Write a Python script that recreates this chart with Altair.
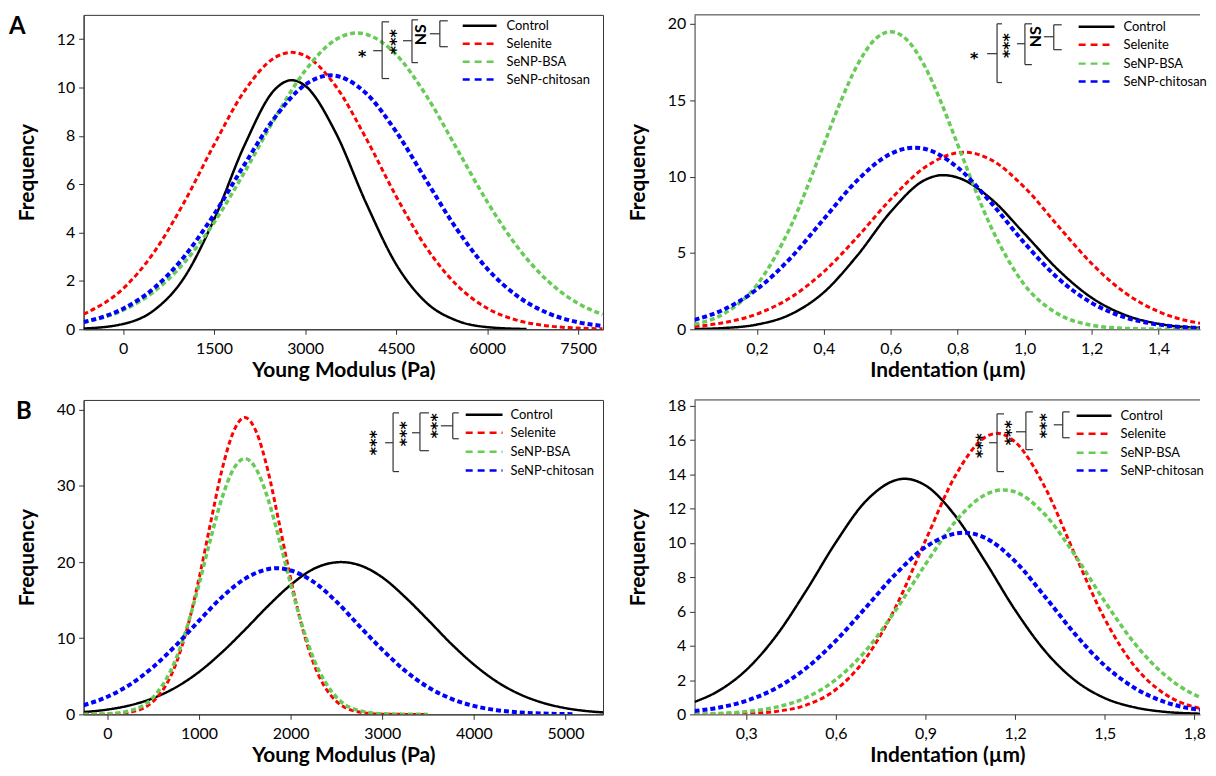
import altair as alt
import pandas as pd

SERIES = ["Control", "Selenite", "SeNP-BSA", "SeNP-chitosan"]
COLORS = ["#000000", "#ff0000", "#66cc55", "#0000ff"]

# ---------------- Panel A, left: Young modulus ----------------
A1_CONTROL_X = [-650, 0, 500, 1000, 1500, 2000, 2500, 2780, 3000, 3500, 4000, 4500, 5000, 5500, 6000, 6650]
A1_CONTROL_Y = [0.03, 0.22, 0.77, 2.11, 4.54, 7.6, 9.91, 10.3, 10.07, 8.15, 5.25, 2.69, 1.1, 0.36, 0.09, 0.01]
A1_SELENITE_X = [-650, 0, 500, 1000, 1500, 2000, 2500, 2780, 3000, 3500, 4000, 4500, 5000, 5500, 6000, 6500, 7000, 7500, 7900]
A1_SELENITE_Y = [0.62, 1.68, 3.15, 5.22, 7.63, 9.85, 11.23, 11.45, 11.31, 10.07, 7.92, 5.5, 3.37, 1.83, 0.87, 0.37, 0.14, 0.05, 0.02]
A1_BSA_X = [-650, 0, 500, 1000, 1500, 2000, 2500, 3000, 3500, 3860, 4000, 4500, 5000, 5500, 6000, 6500, 7000, 7500, 7900]
A1_BSA_Y = [0.29, 0.79, 1.54, 2.73, 4.41, 6.49, 8.72, 10.69, 11.97, 12.25, 12.2, 11.36, 9.65, 7.47, 5.28, 3.4, 2.0, 1.07, 0.61]
A1_CHITOSAN_X = [-650, 0, 500, 1000, 1500, 2000, 2500, 3000, 3420, 4000, 4500, 5000, 5500, 6000, 6500, 7000, 7500, 7900]
A1_CHITOSAN_Y = [0.3, 0.85, 1.68, 2.98, 4.75, 6.81, 8.75, 10.11, 10.5, 9.77, 8.17, 6.14, 4.14, 2.51, 1.37, 0.67, 0.29, 0.14]
A1_XTICKS = [0, 1500, 3000, 4500, 6000, 7500]
A1_YTICKS = [0, 2, 4, 6, 8, 10, 12]

# ---------------- Panel A, right: Indentation ----------------
A2_CONTROL_X = [0.014, 0.1, 0.2, 0.3, 0.4, 0.5, 0.6, 0.7, 0.755, 0.8, 0.9, 1.0, 1.1, 1.2, 1.3, 1.4, 1.5, 1.524]
A2_CONTROL_Y = [0.02, 0.08, 0.31, 0.97, 2.42, 4.83, 7.7, 9.76, 10.1, 9.94, 8.54, 6.25, 3.9, 2.07, 0.94, 0.36, 0.12, 0.1]
A2_SELENITE_X = [0.014, 0.1, 0.2, 0.3, 0.4, 0.5, 0.6, 0.7, 0.82, 0.9, 1.0, 1.1, 1.2, 1.3, 1.4, 1.5, 1.524]
A2_SELENITE_Y = [0.18, 0.43, 1.0, 2.07, 3.77, 6.04, 8.52, 10.58, 11.6, 11.1, 9.29, 6.77, 4.31, 2.39, 1.16, 0.49, 0.4]
A2_BSA_X = [0.014, 0.1, 0.2, 0.3, 0.4, 0.45, 0.5, 0.55, 0.6, 0.65, 0.7, 0.75, 0.8, 0.9, 1.0, 1.1, 1.2, 1.3, 1.4, 1.524]
A2_BSA_Y = [0.33, 1.0, 2.9, 6.69, 12.1, 14.9, 17.3, 18.93, 19.5, 18.93, 17.3, 14.9, 12.1, 6.69, 2.9, 1.0, 0.27, 0.06, 0.01, 0.0]
A2_CHITOSAN_X = [0.014, 0.1, 0.2, 0.3, 0.4, 0.5, 0.6, 0.67, 0.7, 0.8, 0.9, 1.0, 1.1, 1.2, 1.3, 1.4, 1.5, 1.524]
A2_CHITOSAN_Y = [0.62, 1.28, 2.62, 4.65, 7.22, 9.76, 11.5, 11.9, 11.83, 10.6, 8.28, 5.64, 3.34, 1.73, 0.78, 0.31, 0.11, 0.09]
A2_XTICKS = [0.2, 0.4, 0.6, 0.8, 1.0, 1.2, 1.4]
A2_YTICKS = [0, 5, 10, 15, 20]

# ---------------- Panel B, left: Young modulus ----------------
B1_CONTROL_X = [-260, 0, 250, 500, 750, 1000, 1250, 1500, 1750, 2000, 2250, 2550, 2750, 3000, 3250, 3500, 3750, 4000, 4250, 4500, 4750, 5000, 5250, 5410]
B1_CONTROL_Y = [0.3, 0.63, 1.2, 2.14, 3.57, 5.58, 8.15, 11.1, 14.2, 17.0, 19.1, 20.0, 19.6, 18.0, 15.4, 12.4, 9.3, 6.55, 4.3, 2.65, 1.53, 0.82, 0.41, 0.26]
B1_SELENITE_X = [-260, 0, 250, 500, 750, 875, 1000, 1125, 1250, 1375, 1500, 1625, 1750, 1875, 2000, 2125, 2250, 2500, 2750, 3000, 3250, 3500]
B1_SELENITE_Y = [0.0, 0.03, 0.3, 1.71, 6.72, 11.5, 17.85, 25.1, 32.1, 37.1, 39.0, 37.1, 32.1, 25.1, 17.85, 11.5, 6.72, 1.71, 0.3, 0.03, 0.0, 0.0]
B1_BSA_X = [-260, 0, 250, 500, 750, 875, 1000, 1125, 1250, 1375, 1500, 1625, 1750, 1875, 2000, 2125, 2250, 2500, 2750, 3000, 3250, 3500]
B1_BSA_Y = [0.01, 0.08, 0.49, 2.25, 7.34, 11.7, 17.1, 23.0, 28.4, 32.2, 33.6, 32.2, 28.4, 23.0, 17.1, 11.7, 7.34, 2.25, 0.49, 0.08, 0.01, 0.0]
B1_CHITOSAN_X = [-260, 0, 250, 500, 750, 1000, 1250, 1500, 1850, 2000, 2250, 2500, 2750, 3000, 3250, 3500, 3750, 4000, 4250, 4500, 4750, 5000, 5100]
B1_CHITOSAN_Y = [1.2, 2.32, 3.95, 6.23, 9.1, 12.3, 15.4, 17.8, 19.2, 18.9, 17.4, 14.8, 11.6, 8.5, 5.72, 3.57, 2.07, 1.11, 0.55, 0.25, 0.11, 0.04, 0.03]
B1_XTICKS = [0, 1000, 2000, 3000, 4000, 5000]
B1_YTICKS = [0, 10, 20, 30, 40]

# ---------------- Panel B, right: Indentation ----------------
B2_CONTROL_X = [0.127, 0.2, 0.3, 0.4, 0.5, 0.6, 0.7, 0.83, 0.9, 1.0, 1.1, 1.2, 1.3, 1.4, 1.5, 1.6, 1.7, 1.8, 1.819]
B2_CONTROL_Y = [0.73, 1.3, 2.59, 4.58, 7.2, 10.04, 12.44, 13.75, 13.36, 11.58, 8.92, 6.09, 3.7, 1.99, 0.95, 0.41, 0.15, 0.05, 0.04]
B2_SELENITE_X = [0.127, 0.2, 0.3, 0.4, 0.5, 0.6, 0.7, 0.8, 0.9, 1.0, 1.1, 1.14, 1.2, 1.3, 1.4, 1.5, 1.6, 1.7, 1.8, 1.819]
B2_SELENITE_Y = [0.0, 0.01, 0.05, 0.17, 0.54, 1.45, 3.27, 6.26, 10.15, 13.93, 16.18, 16.4, 15.9, 13.25, 9.34, 5.57, 2.81, 1.2, 0.43, 0.35]
B2_BSA_X = [0.127, 0.2, 0.3, 0.4, 0.5, 0.6, 0.7, 0.8, 0.9, 1.0, 1.1, 1.16, 1.2, 1.3, 1.4, 1.5, 1.6, 1.7, 1.8, 1.819]
B2_BSA_Y = [0.02, 0.05, 0.16, 0.42, 0.98, 2.03, 3.72, 6.07, 8.76, 11.25, 12.82, 13.1, 12.98, 11.66, 9.3, 6.59, 4.14, 2.31, 1.15, 1.0]
B2_CHITOSAN_X = [0.127, 0.2, 0.3, 0.4, 0.5, 0.6, 0.7, 0.8, 0.9, 1.03, 1.1, 1.2, 1.3, 1.4, 1.5, 1.6, 1.7, 1.8, 1.819]
B2_CHITOSAN_Y = [0.2, 0.37, 0.79, 1.53, 2.69, 4.3, 6.23, 8.19, 9.76, 10.6, 10.3, 8.93, 6.87, 4.7, 2.85, 1.54, 0.73, 0.31, 0.27]
B2_XTICKS = [0.3, 0.6, 0.9, 1.2, 1.5, 1.8]
B2_YTICKS = [0, 2, 4, 6, 8, 10, 12, 14, 16, 18]

X_TITLE_MOD = "Young Modulus (Pa)"
X_TITLE_IND = "Indentation (µm)"
Y_TITLE = "Frequency"
STAR1 = "*"
STAR3 = "***"
NS = "NS"

# ---------------- styling / annotation geometry (pixels in plot area) ----------------
FONT = "Lato"
AXC = "#333333"
WL, WR, H = 522, 508, 316


def curves_df(pairs):
    rows = []
    for s, (xs, ys) in zip(SERIES, pairs):
        for x, y in zip(xs, ys):
            rows.append({"x": x, "y": y, "series": s})
    return pd.DataFrame(rows)


def panel(pairs, xdom, ydom, xticks, yticks, xtitle, decimal, width,
          legend, brackets, stars, single, ns, label, label_x, right_open):
    df = curves_df(pairs)
    if decimal:
        lab = "replace(format(datum.value, '.1f'), '.', ',')"
    else:
        lab = "format(datum.value, 'd')"
    lines = alt.Chart(df).mark_line(clip=True, interpolate="monotone").encode(
        x=alt.X("x:Q", scale=alt.Scale(domain=xdom, nice=False, zero=False),
                axis=alt.Axis(values=xticks, title=xtitle, labelExpr=lab,
                              labelPadding=6, titleY=30, titleBaseline="top")),
        y=alt.Y("y:Q", scale=alt.Scale(domain=ydom, nice=False, zero=False),
                axis=alt.Axis(values=yticks, title=Y_TITLE, format="d",
                              labelPadding=4, titleX=-56, titleAngle=270,
                              titleBaseline="middle")),
        color=alt.Color("series:N", scale=alt.Scale(domain=SERIES, range=COLORS), legend=None),
        strokeDash=alt.StrokeDash("series:N", scale=alt.Scale(
            domain=SERIES, range=[[1, 0], [5, 3], [5, 3], [5, 3]]), legend=None),
        strokeWidth=alt.StrokeWidth("series:N", scale=alt.Scale(
            domain=SERIES, range=[2.5, 4, 4, 4]), legend=None),
        detail="series:N",
    )
    lx1, lx2, ltx, lrows = legend
    ldf = pd.DataFrame({"series": SERIES, "x1": [lx1] * 4, "x2": [lx2] * 4,
                        "tx": [ltx] * 4, "y": lrows, "c": COLORS})
    leg_solid = alt.Chart(ldf[ldf.series == "Control"]).mark_rule(strokeWidth=2.5).encode(
        x=alt.X("x1:Q", scale=None), x2="x2:Q", y=alt.Y("y:Q", scale=None),
        color=alt.Color("c:N", scale=None))
    leg_dash = alt.Chart(ldf[ldf.series != "Control"]).mark_rule(
        strokeWidth=2.5, strokeDash=[7, 5]).encode(
        x=alt.X("x1:Q", scale=None), x2="x2:Q", y=alt.Y("y:Q", scale=None),
        color=alt.Color("c:N", scale=None))
    leg_text = alt.Chart(ldf).mark_text(
        align="left", baseline="middle", font=FONT, fontSize=13, color="black").encode(
        x=alt.X("tx:Q", scale=None), y=alt.Y("y:Q", scale=None), text="series:N")
    bdf = pd.DataFrame(brackets, columns=["x1", "y1", "x2", "y2"])
    br = alt.Chart(bdf).mark_rule(color=AXC, strokeWidth=1.2).encode(
        x=alt.X("x1:Q", scale=None), x2="x2:Q",
        y=alt.Y("y1:Q", scale=None), y2="y2:Q")
    # stacked "***" written as one rotated text (asterisk glyph sits high -> shift x by -4)
    sdf = pd.DataFrame(stars, columns=["x", "y", "t"])
    sdf["x"] = sdf["x"] - 4
    st = alt.Chart(sdf).mark_text(
        font="DejaVu Sans", fontSize=16, fontWeight="bold", color="black",
        align="center", baseline="middle", angle=90).encode(
        x=alt.X("x:Q", scale=None), y=alt.Y("y:Q", scale=None), text="t:N")
    layers = [lines, leg_solid, leg_dash, leg_text, br, st]
    if single:
        s1 = pd.DataFrame([single], columns=["x", "y", "t"])
        layers.append(alt.Chart(s1).mark_text(
            font="DejaVu Sans", fontSize=16, fontWeight="bold", color="black",
            align="center", baseline="middle", dy=4).encode(
            x=alt.X("x:Q", scale=None), y=alt.Y("y:Q", scale=None), text="t:N"))
    if ns:
        ndf = pd.DataFrame([ns], columns=["x", "y", "t"])
        layers.append(alt.Chart(ndf).mark_text(
            font=FONT, fontSize=16, fontWeight="bold", color="black",
            align="center", baseline="middle", angle=270).encode(
            x=alt.X("x:Q", scale=None), y=alt.Y("y:Q", scale=None), text="t:N"))
    lab_df = pd.DataFrame({"t": [label]})
    if label:
        layers.append(alt.Chart(lab_df).mark_text(
            font=FONT, fontSize=24, fontWeight="bold", color="black",
            align="left", baseline="top").encode(
            x=alt.value(label_x), y=alt.value(0), text="t:N"))
    props = dict(width=width, height=H)
    if right_open:
        top = alt.Chart(lab_df).mark_rule(color=AXC, strokeWidth=1).encode(
            x=alt.value(0), x2=alt.value(width), y=alt.value(0))
        layers.append(top)
        props["view"] = alt.ViewBackground(stroke="transparent")
    return alt.layer(*layers).properties(**props)


def bracket(vx, y0, y1, tip, mx0, my):
    return [(vx, y0, vx, y1), (vx, y0, tip, y0), (vx, y1, tip, y1), (mx0, my, vx, my)]


# Panel A left
a1 = panel(
    [(A1_CONTROL_X, A1_CONTROL_Y), (A1_SELENITE_X, A1_SELENITE_Y),
     (A1_BSA_X, A1_BSA_Y), (A1_CHITOSAN_X, A1_CHITOSAN_Y)],
    [-650, 7910], [0, 13], A1_XTICKS, A1_YTICKS, X_TITLE_MOD, False, WL,
    (381, 415, 425, [11, 29, 47, 65]),
    bracket(358, 6, 32, 366, 348, 19) + bracket(330, 5, 48, 336, 321, 26)
    + bracket(300, 7, 64, 307, 291, 36),
    [(312, 27, STAR3)], (280, 38, STAR1), (339, 20, NS),
    "A", -75, False)

# Panel A right
a2 = panel(
    [(A2_CONTROL_X, A2_CONTROL_Y), (A2_SELENITE_X, A2_SELENITE_Y),
     (A2_BSA_X, A2_BSA_Y), (A2_CHITOSAN_X, A2_CHITOSAN_Y)],
    [0.014, 1.524], [0, 20.6], A2_XTICKS, A2_YTICKS, X_TITLE_IND, True, WR,
    (386, 422, 431, [12, 30, 49, 67]),
    bracket(361, 10, 35, 369, 351, 22) + bracket(332, 9, 50, 339, 324, 29)
    + bracket(304, 9, 68, 309, 294, 39),
    [(314, 31, STAR3)], (281, 40, STAR1), (343, 22, NS),
    "", 0, True)

# Panel B left
b1 = panel(
    [(B1_CONTROL_X, B1_CONTROL_Y), (B1_SELENITE_X, B1_SELENITE_Y),
     (B1_BSA_X, B1_BSA_Y), (B1_CHITOSAN_X, B1_CHITOSAN_Y)],
    [-260, 5410], [0, 41.3], B1_XTICKS, B1_YTICKS, X_TITLE_MOD, False, WL,
    (384, 421, 429, [15, 33, 52, 71]),
    bracket(371, 13, 39, 377, 359, 26) + bracket(338, 13, 51, 347, 330, 33)
    + bracket(311, 13, 72, 317, 303, 43),
    [(353, 26, STAR3), (322, 34, STAR3), (292, 43, STAR3)], None, None,
    "B", -68, False)

# Panel B right
b2 = panel(
    [(B2_CONTROL_X, B2_CONTROL_Y), (B2_SELENITE_X, B2_SELENITE_Y),
     (B2_BSA_X, B2_BSA_Y), (B2_CHITOSAN_X, B2_CHITOSAN_Y)],
    [0.127, 1.819], [0, 18.35], B2_XTICKS, B2_YTICKS, X_TITLE_IND, True, WR,
    (384, 419, 428, [16, 34, 53, 71]),
    bracket(370, 12, 38, 377, 361, 25) + bracket(333, 12, 50, 340, 323, 32)
    + bracket(304, 14, 72, 311, 296, 43),
    [(351, 26, STAR3), (316, 33, STAR3), (287, 46, STAR3)], None, None,
    "", 0, True)

chart = alt.concat(
    a1, a2, b1, b2, columns=2, spacing={"row": 71, "column": 92}, bounds="flush"
).properties(
    padding={"left": 0, "top": 4, "right": 0, "bottom": 0},
    background="white",
).configure_view(
    stroke=AXC, strokeWidth=1
).configure_axis(
    grid=False, domainColor=AXC, tickColor=AXC, tickSize=5,
    labelFont=FONT, labelFontSize=16, labelColor="black",
    titleFont=FONT, titleFontSize=21, titleFontWeight="bold", titleColor="black",
)

chart.save("out.html", embed_options={"renderer": "svg", "actions": False})
